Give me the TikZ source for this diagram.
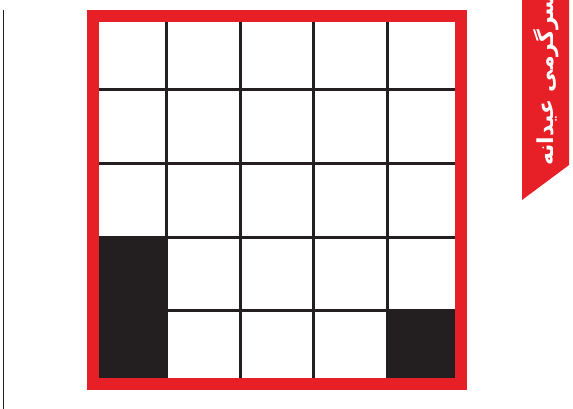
\documentclass[tikz,border=0pt]{standalone}
\usepackage{fontspec}
\newfontfamily\arabicfont[Script=Arabic]{DejaVu Sans}
\TeXXeTstate=1
\usepackage{tikz}
\definecolor{frame}{RGB}{230,32,38}
\definecolor{ink}{RGB}{35,31,32}

\begin{document}
\begin{tikzpicture}[x=1pt, y=-1pt,
  gridline/.style={draw=ink, line width=3pt},
  redframe/.style={draw=frame, line width=12pt},
  shaded/.style={fill=ink},
  banner/.style={fill=frame},
  title/.style={font=\arabicfont\bfseries\fontsize{22}{26}\selectfont, text=white, rotate=90}]
\useasboundingbox (0,0) rectangle (573,408);
\clip (0,0) rectangle (573,408);
% margin rule
\draw[ink, line width=1.5pt] (3.5,10) -- (3.5,410);
% board
\fill[shaded] (93,237.7) rectangle (166.6,384.3);
\fill[shaded] (387.4,311) rectangle (461,384.3);
\foreach \k in {1,...,4} {
  \draw[gridline] ({93+73.6*\k},16.3) -- ({93+73.6*\k},384.3);
  \draw[gridline] (93,{16.3+73.6*\k}) -- (461,{16.3+73.6*\k});
}
\draw[redframe] (93,16.3) rectangle (461,384.3);
% ribbon
\fill[banner] (522,-2) -- (569,-2) -- (569,165) -- (522,200) -- cycle;
\node[title] (lbl) at (546,80) {\beginR سرگرمی عیدانه\endR};
\end{tikzpicture}
\end{document}
